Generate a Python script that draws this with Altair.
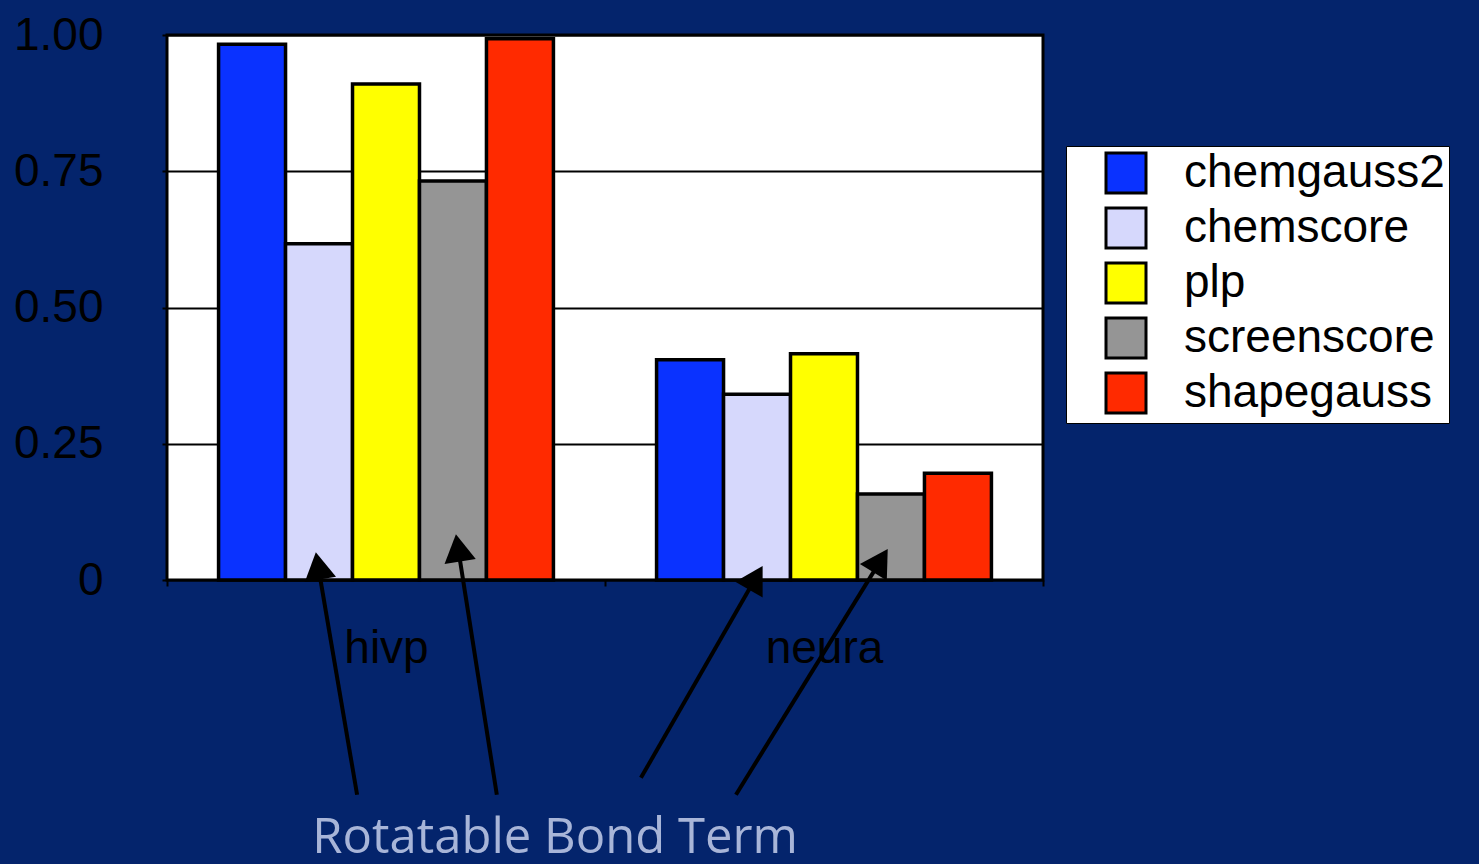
import math
import altair as alt
import pandas as pd

# --- data ---------------------------------------------------------------
groups = ["hivp", "neura"]
series = ["chemgauss2", "chemscore", "plp", "screenscore", "shapegauss"]
hivp_values = [0.983, 0.617, 0.910, 0.732, 0.993]
neura_values = [0.404, 0.341, 0.415, 0.158, 0.196]
series_colors = ["#0a32ff", "#d6d8fc", "#ffff00", "#959595", "#ff2a00"]
y_ticks = [0, 0.25, 0.5, 0.75, 1.0]

# annotation arrows, x in group units (0..2), y in value units
arrow_x_start = [0.434, 0.753, 1.082, 1.299]
arrow_y_start = [-0.394, -0.394, -0.363, -0.394]
arrow_x_tip = [0.338, 0.658, 1.365, 1.651]
arrow_y_tip = [0.059, 0.092, 0.033, 0.064]
note_text = "Rotatable Bond Term"
note_x = 0.886
note_y = -0.5

# --- layout -------------------------------------------------------------
W, H = 876, 545
PX_X = W / 2.0   # pixels per group unit
PX_Y = H         # pixels per value unit
HEAD_SIZE = 1000
HEAD_R = math.sqrt(HEAD_SIZE) / 2
HEAD_BACK = 2 * HEAD_R * math.tan(math.radians(30))  # tip distance from symbol centre

bars_df = pd.DataFrame(
    [{"group": g, "series": s, "value": v}
     for g, vals in zip(groups, [hivp_values, neura_values])
     for s, v in zip(series, vals)]
)

rows = []
for xs, ys, xt, yt in zip(arrow_x_start, arrow_y_start, arrow_x_tip, arrow_y_tip):
    dx = (xt - xs) * PX_X
    dy = -(yt - ys) * PX_Y          # screen y grows downward
    length = math.hypot(dx, dy)
    ux, uy = dx / length, dy / length
    cx = xt - ux * HEAD_BACK / PX_X
    cy = yt + uy * HEAD_BACK / PX_Y
    angle = math.degrees(math.atan2(dx, -dy)) % 360
    rows.append({"xs": xs, "ys": ys, "xe": cx, "ye": cy, "angle": angle})
arrows_df = pd.DataFrame(rows)

y_scale = alt.Scale(domain=[0, 1], nice=False, zero=True)
x_num = alt.Scale(domain=[0, 2], nice=False, zero=False)

y_axis = alt.Axis(
    values=y_ticks,
    labelExpr="datum.value == 0 ? '0' : format(datum.value, '.2f')",
    labelFont="Liberation Sans",
    labelFontSize=46,
    labelColor="black",
    labelPadding=59,
    tickColor="black",
    tickSize=5,
    tickWidth=2,
    domain=False,
    grid=True,
    gridColor="black",
    gridWidth=2,
    gridOpacity=1,
    title=None,
)

bars = alt.Chart(bars_df).mark_bar(stroke="black", strokeWidth=3.5, opacity=1).encode(
    x=alt.X(
        "group:N",
        sort=groups,
        title=None,
        scale=alt.Scale(paddingInner=0, paddingOuter=0),
        axis=alt.Axis(
            labelAngle=0,
            labelFont="Liberation Sans",
            labelFontSize=46,
            labelColor="black",
            labelPadding=40,
            tickBand="extent",
            tickColor="black",
            tickSize=6,
            tickWidth=2,
            domain=False,
            grid=False,
        ),
    ),
    xOffset=alt.XOffset(
        "series:N", sort=series, scale=alt.Scale(paddingInner=0, paddingOuter=0.77)
    ),
    y=alt.Y("value:Q", scale=y_scale, title=None, axis=y_axis),
    color=alt.Color(
        "series:N",
        sort=series,
        scale=alt.Scale(domain=series, range=series_colors),
        legend=alt.Legend(
            title=None,
            orient="none",
            legendX=899,
            legendY=111,
            fillColor="white",
            strokeColor="black",
            padding=4,
            symbolType="square",
            symbolSize=1600,
            symbolStrokeColor="black",
            symbolStrokeWidth=3,
            symbolOffset=33,
            symbolOpacity=1,
            labelFont="Liberation Sans",
            labelFontSize=46,
            labelColor="black",
            labelOffset=35,
            labelLimit=400,
            rowPadding=3,
        ),
    ),
)

lines = alt.Chart(arrows_df).mark_rule(color="black", strokeWidth=4).encode(
    x=alt.X("xs:Q", scale=x_num, axis=None),
    x2="xe:Q",
    y=alt.Y("ys:Q", scale=y_scale, title=None, axis=y_axis),
    y2="ye:Q",
)

heads = alt.Chart(arrows_df).mark_point(
    shape="triangle-up", filled=True, color="black", size=HEAD_SIZE, opacity=1
).encode(
    x=alt.X("xe:Q", scale=x_num, axis=None),
    y=alt.Y("ye:Q", scale=y_scale, title=None, axis=y_axis),
    angle=alt.Angle("angle:Q", scale=None),
)

note = alt.Chart(pd.DataFrame({"x": [note_x], "y": [note_y], "t": [note_text]})).mark_text(
    font="Open Sans", fontSize=49, color="#a8b5d8", align="center", baseline="alphabetic"
).encode(
    x=alt.X("x:Q", scale=x_num, axis=None),
    y=alt.Y("y:Q", scale=y_scale, title=None, axis=y_axis),
    text="t:N",
)

chart = (
    alt.layer(bars, lines, heads, note)
    .resolve_scale(x="independent")
    .properties(
        width=W,
        height=H,
        background="#04246c",
        padding={"left": 167, "top": 35, "right": 436, "bottom": 284},
        autosize=alt.AutoSizeParams(type="none"),
    )
    .configure_view(fill="white", stroke="black", strokeWidth=3)
)

chart.save("out.html", embed_options={"renderer": "svg", "actions": False})
